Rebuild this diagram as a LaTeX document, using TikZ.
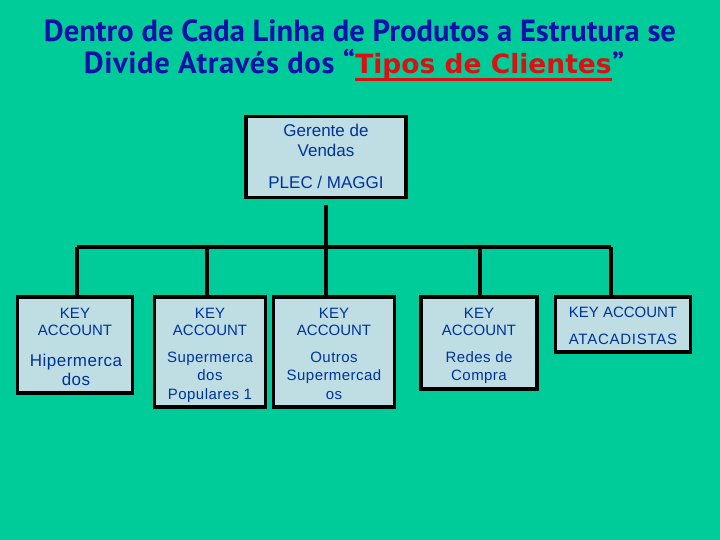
\documentclass[tikz,border=0pt]{standalone}
\usepackage{fontspec}
\setmainfont{Liberation Sans}
\newfontfamily\titlefont{PT Sans}
\newfontfamily\redfont{DejaVu Sans}
\definecolor{bgteal}{RGB}{0,204,153}
\definecolor{boxfill}{RGB}{190,222,228}
\definecolor{txtblue}{RGB}{0,51,153}
\definecolor{titleblue}{RGB}{16,16,170}
\definecolor{titlered}{RGB}{220,16,16}
\tikzset{
  orgbox/.style={draw=black, line width=3.5pt, fill=boxfill, inner sep=0pt},
  btxt/.style={anchor=base, text=txtblue, font=\fontsize{15}{15}\selectfont, inner sep=0pt},
  bigtxt/.style={btxt, font=\fontsize{17}{17}\selectfont},
  hiptxt/.style={btxt, font=\fontsize{17}{17}\selectfont\addfontfeature{LetterSpace=3}},
  smalltxt/.style={btxt, font=\fontsize{15}{15}\selectfont\addfontfeature{LetterSpace=3}},
  conn/.style={draw=black, line width=3.5pt},
  ttl/.style={inner sep=0pt, text=titleblue, font=\titlefont\bfseries\fontsize{30.6}{30.6}\selectfont},
}
\begin{document}
\begin{tikzpicture}[x=1pt,y=-1pt]
\fill[bgteal] (0,0) rectangle (720,540);
\useasboundingbox (0,0) rectangle (720,540);

% title
\node[ttl, anchor=base] (t1) at (360,42) {Dentro de Cada Linha de Produtos a Estrutura se};
\node[inner sep=0pt, anchor=base, text=titlered, font=\redfont\bfseries\fontsize{26.5}{26.5}\selectfont] (red) at (483.5,74) {Tipos de Clientes};
\node[ttl, anchor=base east, font=\titlefont\bfseries\fontsize{30.6}{30.6}\selectfont\addfontfeature{LetterSpace=2}] (t2) at (red.base west) {Divide Através dos “};
\node[ttl, anchor=base west] (t3) at (red.base east) {”};
\draw[titlered, line width=3pt] ([yshift=-6pt]red.base west) -- ([yshift=-6pt]red.base east);

% top box
\node[orgbox, minimum width=160pt, minimum height=81pt] (top) at (326,157) {};
\node[bigtxt] (g1) at (326,137) {Gerente de};
\node[bigtxt] (g2) at (326,157) {Vendas};
\node[bigtxt] (g3) at (326,189) {PLEC / MAGGI};

% bottom boxes
\node[orgbox, minimum width=115pt, minimum height=96pt] (b1) at (75,345) {};
\node[orgbox, minimum width=111pt, minimum height=110pt] (b2) at (210,352) {};
\node[orgbox, minimum width=121pt, minimum height=110pt] (b3) at (334,352) {};
\node[orgbox, minimum width=116pt, minimum height=92pt] (b4) at (479,343) {};
\node[orgbox, minimum width=135pt, minimum height=55pt] (b5) at (623,324.5) {};

\node[btxt] (k1) at (75,318) {KEY};
\node[btxt] (a1) at (75,335) {ACCOUNT};
\node[hiptxt] (c1) at (76,366) {Hipermerca};
\node[hiptxt] (e1) at (76,385) {dos};

\node[btxt] (k2) at (210,318) {KEY};
\node[btxt] (a2) at (210,335) {ACCOUNT};
\node[smalltxt] (c2) at (210,362) {Supermerca};
\node[smalltxt] (e2) at (210,380) {dos};
\node[smalltxt] (f2) at (210,399) {Populares 1};

\node[btxt] (k3) at (334,318) {KEY};
\node[btxt] (a3) at (334,335) {ACCOUNT};
\node[smalltxt] (c3) at (334,362) {Outros};
\node[smalltxt] (e3) at (334,380) {Supermercad};
\node[smalltxt] (f3) at (334,399) {os};

\node[btxt] (k4) at (479,318) {KEY};
\node[btxt] (a4) at (479,335) {ACCOUNT};
\node[smalltxt] (c4) at (479,362) {Redes de};
\node[smalltxt] (e4) at (479,380) {Compra};

\node[btxt] (k5) at (623,317) {KEY ACCOUNT};
\node[smalltxt, font=\fontsize{15}{15}\selectfont\addfontfeature{LetterSpace=5}] (a5) at (623,344) {ATACADISTAS};

% connectors
\coordinate (hub) at (326,247);
\coordinate (s1) at (77,247);
\coordinate (s2) at (207,247);
\coordinate (s3) at (326,247);
\coordinate (s4) at (480,247);
\coordinate (s5) at (611,247);
\coordinate (ts) at (326,205);
\draw[conn] (ts) -- (hub);
\draw[conn] (s1) -- (s5);
\draw[conn] (s1) -- (s1 |- b1.north);
\draw[conn] (s2) -- (s2 |- b2.north);
\draw[conn] (s3) -- (s3 |- b3.north);
\draw[conn] (s4) -- (s4 |- b4.north);
\draw[conn] (s5) -- (s5 |- b5.north);
\end{tikzpicture}
\end{document}
